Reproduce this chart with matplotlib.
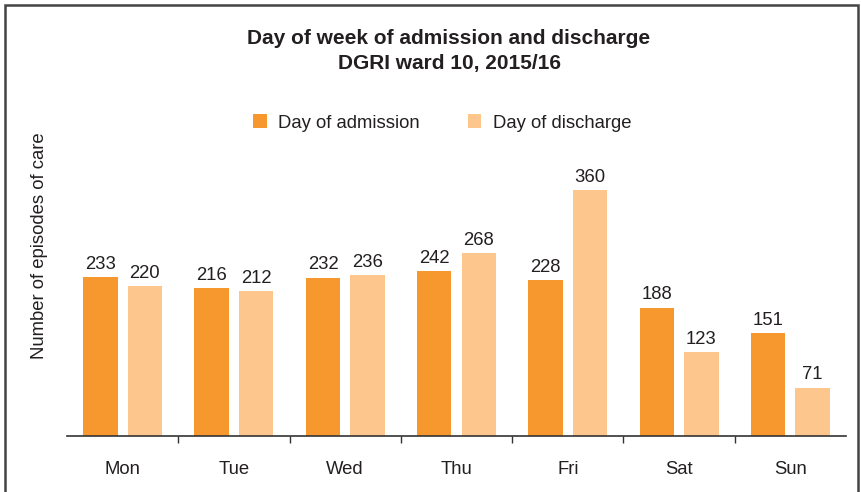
import numpy as np
import matplotlib.pyplot as plt
from matplotlib.patches import Rectangle

days = ["Mon", "Tue", "Wed", "Thu", "Fri", "Sat", "Sun"]
admission = [233, 216, 232, 242, 228, 188, 151]
discharge = [220, 212, 236, 268, 360, 123, 71]

ORANGE = "#F7982F"
LIGHT = "#FDC68D"
TEXT = "#231F20"
FS = 13.3

plt.rcParams["font.family"] = ["Liberation Sans", "DejaVu Sans"]

fig = plt.figure(figsize=(8.61, 4.92), dpi=100)
ax = fig.add_axes([67 / 861, 1 - 436 / 492, 779 / 861, 294 / 492])

x = np.arange(len(days))
w = 0.31
b1 = ax.bar(x - 0.2, admission, w, color=ORANGE, label="Day of admission")
b2 = ax.bar(x + 0.2, discharge, w, color=LIGHT, label="Day of discharge")

for bars, vals in ((b1, admission), (b2, discharge)):
    for r, v in zip(bars, vals):
        ax.text(r.get_x() + r.get_width() / 2, v + 6, str(v), ha="center",
                va="bottom", fontsize=FS, color=TEXT)

ax.set_xlim(-0.5, 6.5)
ax.set_ylim(0, 294 / 0.683)
ax.set_xticks(x)
ax.set_xticklabels(days, fontsize=FS, color=TEXT)
ax.tick_params(axis="x", length=0, pad=18)
ax.set_xticks(np.arange(0.5, 6.5, 1), minor=True)
ax.tick_params(axis="x", which="minor", length=5, width=1, color="#333333",
               direction="out")
ax.set_yticks([])
for s in ("top", "right", "left"):
    ax.spines[s].set_visible(False)
ax.spines["bottom"].set_color("#333333")
ax.spines["bottom"].set_linewidth(1.2)

fig.text(40 / 861, 1 - 246 / 492, "Number of episodes of care", rotation=90,
         ha="center", va="center", fontsize=FS, color=TEXT)

fig.text(449 / 861, 1 - 39 / 492, "Day of week of admission and discharge",
         ha="center", va="center", fontsize=15, fontweight="bold", color=TEXT)
fig.text(449 / 861, 1 - 64 / 492, "DGRI ward 10, 2015/16",
         ha="center", va="center", fontsize=15, fontweight="bold", color=TEXT)

fig.legend(handles=[b1, b2], loc="center", bbox_to_anchor=(442 / 861, 1 - 123 / 492),
           ncol=2, frameon=False, fontsize=FS, handlelength=0.75,
           handleheight=0.75, handletextpad=0.6, columnspacing=2.6,
           labelcolor=TEXT)

fig.patches.append(Rectangle((5 / 861, -0.05), 853 / 861, 1 - 5 / 492 + 0.05,
                             transform=fig.transFigure, fill=False,
                             edgecolor="#444444", linewidth=1.8))

fig.savefig("out.png", dpi=100)
